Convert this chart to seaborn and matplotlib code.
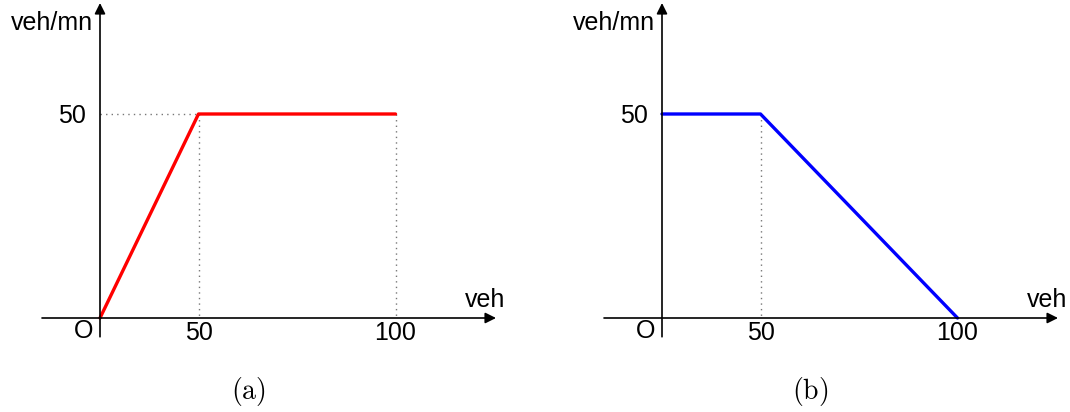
import numpy as np
import seaborn as sns
import matplotlib.pyplot as plt
import pandas as pd

# fundamental diagram pieces, veh vs veh/mn
x_demand = [0, 50, 100]
y_demand = [0, 50, 50]
x_supply = [0, 50, 100]
y_supply = [50, 50, 0]
x_ticks = [50, 100]
x_tick_labels = ["50", "100"]
y_ticks = [50]
y_tick_labels = ["50"]
captions = ["(a)", "(b)"]

sns.set_theme(style="white")
plt.rcParams['font.family'] = ['Liberation Sans', 'DejaVu Sans']
plt.rcParams['mathtext.fontset'] = 'cm'
plt.rcParams['text.color'] = 'black'

W, H = 1070, 412
fig = plt.figure(figsize=(W / 100, H / 100), dpi=100)

# the x axis of the sketch is not linear: 0-50 is short, 50-100 is long
brk_x = [-100, 0, 50, 300]
brk_p = [-197.0, 0, 98.5, 98.5 + 250 * 3.94]
sy = 4.08


def fwd(x):
    return np.interp(x, brk_x, brk_p)


def inv(p):
    return np.interp(p, brk_p, brk_x)


def make_axes(ox, oy, left, right, top, bottom):
    ax = fig.add_axes([left / W, 1 - bottom / H, (right - left) / W, (bottom - top) / H])
    ax.set_xscale('function', functions=(fwd, inv))
    ax.set_xlim(inv(left - ox), inv(right - ox))
    ax.set_ylim((oy - bottom) / sy, (oy - top) / sy)
    ax.axis('off')
    return ax


def draw_panel(ax, xs, ys, color, dotted, caption):
    df = pd.DataFrame({'x': xs, 'y': ys})
    # axes with arrows
    ax.annotate('', xy=(inv(396), 0), xytext=(inv(-58), 0),
                arrowprops=dict(arrowstyle='-|>', color='black', lw=1.2,
                                mutation_scale=16, shrinkA=0, shrinkB=0))
    ax.annotate('', xy=(0, 77.2), xytext=(0, -4.6),
                arrowprops=dict(arrowstyle='-|>', color='black', lw=1.2,
                                mutation_scale=16, shrinkA=0, shrinkB=0))
    for (x0, y0, x1, y1) in dotted:
        ax.plot([x0, x1], [y0, y1], color='#777777', lw=1.0, ls=(0, (1, 3)))
    sns.lineplot(data=df, x='x', y='y', ax=ax, color=color, lw=2.4,
                 sort=False, estimator=None)
    fs = 18
    for t, lab in zip(x_ticks, x_tick_labels):
        ax.text(t, -3.6, lab, ha='center', va='center', fontsize=fs)
    for t, lab in zip(y_ticks, y_tick_labels):
        ax.text(inv(-14), t - 0.4, lab, ha='right', va='center', fontsize=fs)
    ax.text(inv(-16), -3.2, 'O', ha='center', va='center', fontsize=fs)
    ax.text(inv(405), 4.4, 'veh', ha='right', va='center', fontsize=fs)
    ax.text(inv(-7), 72.3, 'veh/mn', ha='right', va='center', fontsize=fs)
    ax.text(inv(148), -17.9, r'$\mathrm{' + caption + '}$', ha='center', va='center',
            fontsize=20)


ax1 = make_axes(100, 318, 20, 530, 0, 412)
draw_panel(ax1, x_demand, y_demand, '#ff0000',
           [(0, 50, 50, 50), (50, 50, 50, 0), (100, 50, 100, 0)], captions[0])

ax2 = make_axes(662, 318, 582, 1070, 0, 412)
draw_panel(ax2, x_supply, y_supply, '#0000ff',
           [(50, 50, 50, 0)], captions[1])

fig.savefig('out.png', dpi=100)
